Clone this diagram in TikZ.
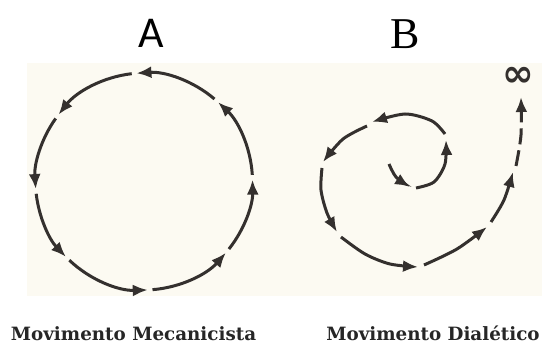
\documentclass[tikz,border=0pt]{standalone}
\usepackage{fontspec}
\newfontfamily\letterA{Carlito}
\newfontfamily\letterB{Liberation Serif}
\newfontfamily\capfont{DejaVu Serif}
\newfontfamily\symfont{DejaVu Sans}
\usetikzlibrary{arrows.meta}
\definecolor{ink}{RGB}{52,48,46}
\definecolor{paper}{RGB}{252,250,242}
\tikzset{flow/.style={draw=ink,line width=3pt,-{Latex[length=15pt,width=12pt]}},onward/.style={flow,dash pattern=on 16pt off 6pt},caption/.style={anchor=base,inner sep=0pt,text=black!85,font=\capfont\bfseries\fontsize{18.3}{20}\selectfont}}

\begin{document}
\begin{tikzpicture}[x=1pt,y=-1pt]
\path[use as bounding box] (0,0) rectangle (542,345);
\fill[paper] (27,63) rectangle (542,296);
\node[anchor=base,inner sep=0pt,font=\letterA\fontsize{44}{44}\selectfont] (titleA) at (151,48) {A};
\node[anchor=base,inner sep=0pt,font=\letterB\fontsize{44}{44}\selectfont] (titleB) at (405.5,49) {B};
% A: closed circle, eight arcs
\draw[flow] (228.91,249.04) arc[start angle=38.5,end angle=-1,radius=108.5];
\draw[flow] (252.30,174.88) arc[start angle=-3.5,end angle=-47,radius=108.5];
\draw[flow] (214.47,99.00) arc[start angle=-49.5,end angle=-94,radius=108.5];
\draw[flow] (131.72,73.70) arc[start angle=-96.5,end angle=-142,radius=108.5];
\draw[flow] (55.67,118.49) arc[start angle=-144.5,end angle=-184,radius=108.5];
\draw[flow] (36.20,193.78) arc[start angle=-186.5,end angle=-224,radius=108.5];
\draw[flow] (69.31,260.20) arc[start angle=-226.5,end angle=-272,radius=108.5];
\draw[flow] (152.51,289.67) arc[start angle=-274.5,end angle=-319,radius=108.5];
% B: open spiral
\draw[flow] plot[smooth] coordinates {(389,164) (396,177) (410,187)};
\draw[flow] plot[smooth] coordinates {(416,188) (434,182) (445,164) (446,140)};
\draw[flow] plot[smooth] coordinates {(445,134) (432,121) (405,114) (372,122)};
\draw[flow] plot[smooth] coordinates {(367,126) (343,139) (323,162)};
\draw[flow] plot[smooth] coordinates {(322,168) (321,190) (327,213) (337,232)};
\draw[flow] plot[smooth] coordinates {(341,237) (365,254) (390,264) (418,267)};
\draw[flow] plot[smooth] coordinates {(424,265) (457,249) (487,227)};
\draw[flow] plot[smooth] coordinates {(491,222) (504,200) (513,172)};
\draw[onward] plot[smooth] coordinates {(516,166) (521,135) (521,97)};
\node[anchor=center,inner sep=0pt,text=ink,font=\symfont\bfseries\fontsize{38}{38}\selectfont] (inf) at (518,77) {∞};
\node[caption] (capA) at (133.5,341) {Movimento Mecanicista};
\node[caption] (capB) at (433,341) {Movimento Dialético};
\end{tikzpicture}
\end{document}
